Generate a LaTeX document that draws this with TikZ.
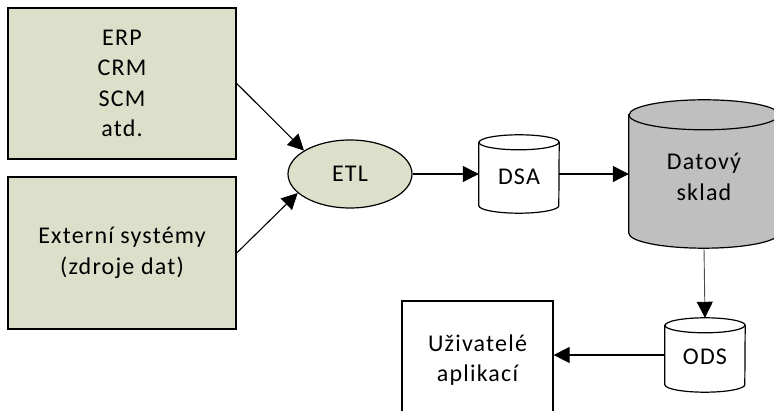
\documentclass[tikz,border=0pt]{standalone}
\usepackage{fontspec}
\setmainfont{Carlito}[LetterSpace=5]
\usetikzlibrary{arrows.meta,calc,shapes.geometric}
\definecolor{srcgreen}{HTML}{DCE0CA}
\definecolor{dwgray}{HTML}{BFBFBF}
\newcommand\drawcyl[4]{% node, rx, ry, fill
  \draw[cylline,fill=#4] ($(#1.north west)+(0,-#3)$) -- ($(#1.south west)+(0,#3)$)
    arc[start angle=180,end angle=360,x radius=#2,y radius=#3]
    -- ($(#1.north east)+(0,-#3)$)
    arc[start angle=0,end angle=180,x radius=#2,y radius=#3] -- cycle;
  \draw[cylline] ($(#1.north west)+(0,-#3)$)
    arc[start angle=180,end angle=360,x radius=#2,y radius=#3];
}
\begin{document}
\begin{tikzpicture}[x=1pt,y=1pt,
  every node/.style={font=\fontsize{24}{30.5}\selectfont, align=center, inner sep=0pt},
  srcbox/.style={draw, line width=1.4pt, fill=srcgreen, minimum width=228pt},
  plainbox/.style={draw, line width=1.2pt, fill=white},
  cylline/.style={line width=1.2pt},
  conn/.style={line width=1.1pt, -{Triangle[length=16pt,width=16pt,color=black,fill=black]}}
]
\useasboundingbox (0,0) rectangle (774,411);
\clip (0,0) rectangle (774,411);
\node[srcbox, minimum height=151pt] (erp) at (122,327.5) {ERP\\CRM\\SCM\\atd.};
\node[srcbox, minimum height=152pt] (ext) at (122,158) {Externí systémy\\(zdroje dat)};
\node[ellipse, draw, line width=1.2pt, fill=srcgreen, minimum width=124pt, minimum height=68pt] (etl) at (350,237) {ETL};
\node[minimum width=80pt, minimum height=78pt] (dsa) at (519,237) {};
\node[minimum width=150pt, minimum height=148pt] (dw) at (704,237) {};
\node[minimum width=80pt, minimum height=74pt] (ods) at (705,56) {};
\node[plainbox, minimum width=151pt, minimum height=118pt] (uz) at (477.5,51) {Uživatelé\\aplikací};
\drawcyl{dsa}{40}{7.5}{white}
\drawcyl{dw}{75}{15}{dwgray}
\drawcyl{ods}{40}{7.5}{white}
\node (dsat) at ($(dsa.center)+(0,-3)$) {DSA};
\node (dwt) at ($(dw.center)+(0,-3)$) {Datový\\sklad};
\node (odst) at ($(ods.center)+(0,-2)$) {ODS};
\draw[conn] (erp.east) -- (etl.153);
\draw[conn] (ext.east) -- (etl.200);
\draw[conn] (etl.east) -- (dsa.west);
\draw[conn] (dsa.east) -- (dw.west);
\draw[conn, line width=0.9pt, draw=black!70] (dw.south) -- (ods.north);
\draw[conn] (ods.west) -- (ods.west -| uz.east);
\end{tikzpicture}
\end{document}
